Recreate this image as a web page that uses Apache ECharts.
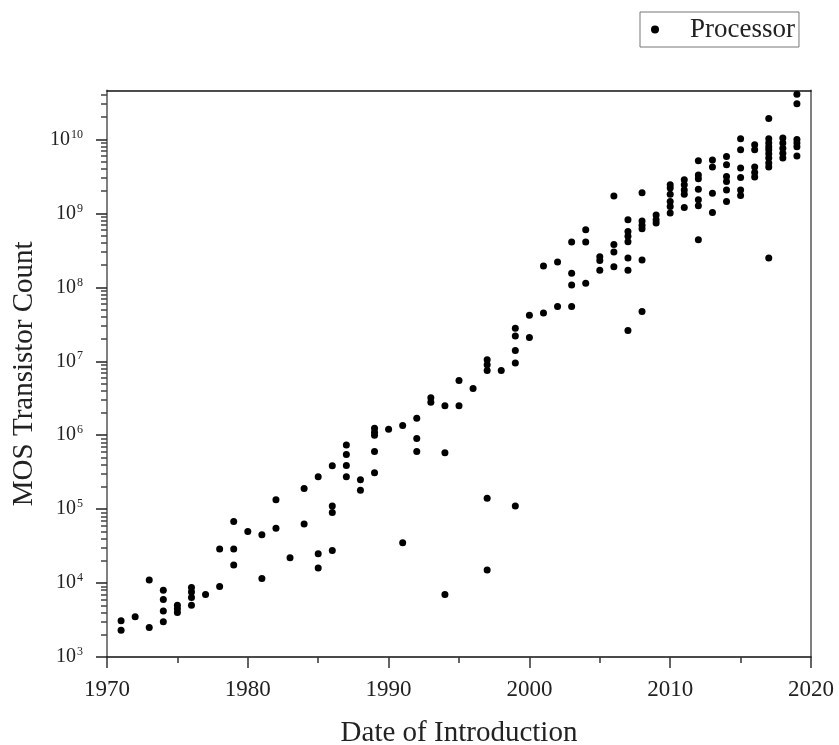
<!DOCTYPE html>
<html>
<head>
<meta charset="utf-8">
<title>MOS Transistor Count</title>
<script src="https://cdn.jsdelivr.net/npm/echarts@6/dist/echarts.min.js"></script>
<style>
  html, body { margin: 0; padding: 0; background: #fff; }
  #chart { width: 839px; height: 745px; }
</style>
</head>
<body>
<div id="chart"></div>
<script>
// Year of introduction for each group of processors
const introYears = [
  1971, 1972, 1973, 1974, 1975, 1976, 1977, 1978, 1979, 1980,
  1981, 1982, 1983, 1984, 1985, 1986, 1987, 1988, 1989, 1990,
  1991, 1992, 1993, 1994, 1995, 1996, 1997, 1998, 1999, 2000,
  2001, 2002, 2003, 2004, 2005, 2006, 2007, 2008, 2009, 2010,
  2011, 2012, 2013, 2014, 2015, 2016, 2017, 2018, 2019
];

// MOS transistor counts of the processors introduced in each year
const transistorCounts = [
  [2300, 3100],
  [3500],
  [11000, 2500],
  [8000, 6000, 4200, 3000],
  [5000, 4500, 4000],
  [8700, 7600, 6400, 5000],
  [7000],
  [29000, 9000],
  [68000, 29000, 17500],
  [50000],
  [45000, 11500],
  [134000, 55000],
  [22000],
  [190000, 63000],
  [275000, 25000, 16000],
  [385000, 110000, 90000, 27500],
  [740000, 550000, 390000, 275000],
  [250000, 180000],
  [1240000, 1100000, 1000000, 600000, 310000],
  [1200000],
  [1350000, 35000],
  [1700000, 900000, 600000],
  [3200000, 2800000],
  [2500000, 580000, 7000],
  [5500000, 2500000],
  [4300000],
  [10500000, 9000000, 7500000, 140000, 15000],
  [7500000],
  [28000000, 22000000, 14000000, 9500000, 110000],
  [42000000, 21000000],
  [195000000, 45000000],
  [220000000, 55000000],
  [410000000, 155000000, 108000000, 55000000],
  [600000000, 410000000, 114000000],
  [260000000, 230000000, 170000000],
  [1720000000, 380000000, 300000000, 190000000],
  [820000000, 570000000, 490000000, 415000000, 250000000, 170000000, 26000000],
  [1900000000, 790000000, 690000000, 620000000, 235000000, 47000000],
  [950000000, 820000000, 740000000],
  [2440000000, 2200000000, 1820000000, 1450000000, 1240000000, 1010000000],
  [2850000000, 2440000000, 2080000000, 1820000000, 1200000000],
  [5150000000, 3300000000, 2940000000, 2130000000, 1530000000, 1270000000, 440000000],
  [5300000000, 4240000000, 1880000000, 1030000000],
  [5900000000, 4550000000, 3160000000, 2700000000, 2080000000, 1450000000],
  [10200000000, 7260000000, 4100000000, 3060000000, 2080000000, 1750000000],
  [8500000000, 7260000000, 4240000000, 3580000000, 3100000000],
  [19200000000, 10200000000, 9000000000, 8000000000, 7260000000, 6400000000, 5600000000, 4800000000, 4240000000, 250000000],
  [10500000000, 9000000000, 7600000000, 6500000000, 5600000000],
  [41000000000, 30400000000, 10000000000, 9000000000, 8000000000, 6000000000]
];

// Axis ranges and tick labels
const yearRange = [1970, 2020];
const countRange = [1000, 4.6e10];
const decadeExponents = [3, 4, 5, 6, 7, 8, 9, 10];

const seriesName = 'Processor';
const xTitle = 'Date of Introduction';
const yTitle = 'MOS Transistor Count';

// Flatten the grouped values into [year, count] pairs
const points = [];
introYears.forEach((year, i) => {
  transistorCounts[i].forEach(c => points.push([year, c]));
});

// Minor log ticks at 2..9 within each decade
const minorTicks = [];
decadeExponents.forEach(e => {
  for (let m = 2; m <= 9; m++) {
    const v = m * Math.pow(10, e);
    if (v <= countRange[1]) minorTicks.push(v);
  }
});

const serif = 'Liberation Serif';
const textColor = '#222';

const chart = echarts.init(document.getElementById('chart'), null, { renderer: 'canvas' });

chart.setOption({
  animation: false,
  backgroundColor: '#fff',
  textStyle: { fontFamily: serif },
  legend: {
    left: 640,
    top: 12,
    padding: [4, 4, 4, 11],
    itemWidth: 8,
    itemHeight: 8,
    icon: 'circle',
    borderColor: '#777',
    borderWidth: 1,
    textStyle: { fontFamily: serif, fontSize: 27, color: textColor, padding: [0, 0, 0, 26] },
    data: [seriesName]
  },
  grid: { left: 107, right: 28, top: 90.5, bottom: 88, outerBoundsMode: 'none', containLabel: false },
  xAxis: [
    {
      type: 'value',
      min: yearRange[0],
      max: yearRange[1],
      interval: 10,
      name: xTitle,
      nameLocation: 'middle',
      nameGap: 62,
      nameTextStyle: { fontFamily: serif, fontSize: 29, color: textColor },
      axisLine: { onZero: false, lineStyle: { color: '#111', width: 1.5 } },
      axisTick: { inside: false, length: 11, lineStyle: { color: '#333', width: 1.5 } },
      minorTick: { show: true, splitNumber: 2, length: 6, lineStyle: { color: '#333', width: 1.5 } },
      axisLabel: {
        margin: 21,
        fontFamily: serif,
        fontSize: 23,
        color: textColor,
        formatter: v => String(v)
      },
      splitLine: { show: false }
    },
    {
      type: 'value',
      position: 'top',
      min: yearRange[0],
      max: yearRange[1],
      axisLine: { onZero: false, lineStyle: { color: '#111', width: 1.5 } },
      axisTick: { show: false },
      axisLabel: { show: false },
      splitLine: { show: false }
    }
  ],
  yAxis: [
    {
      type: 'log',
      logBase: 10,
      min: countRange[0],
      max: countRange[1],
      splitNumber: 8,
      name: yTitle,
      nameLocation: 'middle',
      nameGap: 66,
      nameTextStyle: { fontFamily: serif, fontSize: 29, color: textColor },
      axisLine: { lineStyle: { color: '#808080', width: 2 } },
      axisTick: {
        length: 11,
        customValues: decadeExponents.map(e => Math.pow(10, e)),
        lineStyle: { color: '#222', width: 1.5 }
      },
      axisLabel: {
        margin: 24,
        customValues: decadeExponents.map(e => Math.pow(10, e)),
        formatter: v => '{b|10}{s|' + Math.round(Math.log10(v)) + '}',
        rich: {
          b: { fontFamily: serif, fontSize: 20, color: textColor, lineHeight: 22 },
          s: { fontFamily: serif, fontSize: 12, color: textColor, verticalAlign: 'top', lineHeight: 22, padding: [0, 0, 0, 1] }
        }
      },
      splitLine: { show: false }
    },
    {
      type: 'log',
      logBase: 10,
      position: 'left',
      min: countRange[0],
      max: countRange[1],
      axisLine: { show: false },
      axisTick: { length: 6, customValues: minorTicks, lineStyle: { color: '#444', width: 1.5 } },
      axisLabel: { show: false },
      splitLine: { show: false }
    },
    {
      type: 'log',
      logBase: 10,
      position: 'right',
      min: countRange[0],
      max: countRange[1],
      axisLine: { lineStyle: { color: '#808080', width: 2 } },
      axisTick: { show: false },
      axisLabel: { show: false },
      splitLine: { show: false }
    }
  ],
  series: [
    {
      name: seriesName,
      type: 'scatter',
      xAxisIndex: 0,
      yAxisIndex: 0,
      symbol: 'circle',
      symbolSize: 7,
      itemStyle: { color: '#000', opacity: 1 },
      data: points
    }
  ]
});
</script>
</body>
</html>
